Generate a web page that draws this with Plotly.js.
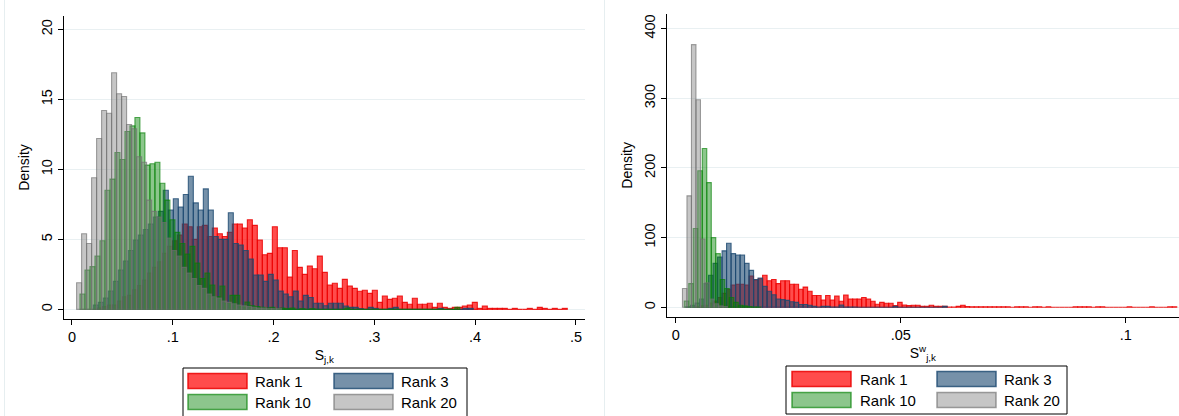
<!DOCTYPE html>
<html>
<head>
<meta charset="utf-8">
<script src="https://cdn.plot.ly/plotly-3.0.1.min.js"></script>
<style>
html,body{margin:0;padding:0;background:#ffffff;}
#chart{width:1179px;height:416px;}
</style>
</head>
<body>
<div id="chart"></div>
<script>
// ---------------- DATA ----------------
// Left panel: S_{j,k}, histogram densities (bin width and first bin edge per series)
const leftBinWidth = 0.00496;
const leftStartRank1 = 0.0252;
const leftStartRank3 = 0.0212;
const leftStartRank10 = 0.0079;
const leftStartRank20 = 0.0046;

const leftRank1 = [0.1,0.2,0.3,0.3,0.6,0.9,1.0,1.4,1.7,2.1,2.6,3.0,3.4,4.0,4.5,4.9,5.3,
  6.1,5.9,5.0,5.9,6.0,5.2,5.8,5.4,5.2,5.5,6.1,6.1,5.8,6.4,6.0,
  4.95,3.9,4.0,5.9,4.4,4.4,2.3,4.2,3.0,2.5,3.1,2.9,3.8,2.64,1.74,1.86,1.5,2.14,1.67,1.5,1.29,
  1.36,1.14,1.36,0.5,0.95,0.71,0.79,0.95,0.5,0.36,0.79,0.36,0.36,0.43,0.14,0.43,0.14,
  0.07,0.14,0.14,0.24,0.31,0.5,0.07,0.24,0.07,0.07,0.07,0.07,0,0.07,0,0,0.07,0,0.14,0.07,0,0.07,0,0.07];
const leftRank3 = [0.3,0.5,0.8,1.3,2.0,2.8,3.45,4.2,4.95,5.3,5.7,6.1,6.6,7.0,
  8.5,7.1,7.9,7.3,8.2,9.5,7.6,7.1,8.6,7.1,5.2,5.0,5.0,6.9,4.7,4.6,4.2,3.6,
  2.45,2.45,2.0,2.5,2.1,1.3,1.1,0.9,1.3,0.6,1.0,0.85,0.43,0.43,0.26,0.43,0.43,0.43,0.24,0.14,0.14,0.05,
  0,0.14,0.07,0,0,0.07,0.14,0,0,0,0,0,0,0,0,0.07,0,0,0,0,0.07,0.07];
const leftRank10 = [1.1,2.8,3.05,3.8,4.9,8.5,9.3,11.2,10.7,12.7,13.1,13.7,12.6,10.3,10.4,10.5,9.0,7.8,
  6.4,5.5,4.7,3.95,4.5,3.3,2.2,2.6,1.74,0.9,1.67,0.43,1.0,1.0,0.2,0.52,0.26,
  0.2,0.15,0.1,0.15,0.05,0.1,0.05,0.1,0,0.05,0,0.05,0,0,0,0,0,0,0.1,0,0,
  0,0,0,0,0,0,0,0,0,0,0,0,0,0,0,0,0,0,0,0.14];
const leftRank20 = [1.9,5.4,4.7,9.4,12.2,14.2,14.0,16.9,15.4,15.2,13.2,12.9,10.9,10.5,7.8,
  7.0,6.6,6.2,5.1,4.2,3.8,3.0,2.6,2.2,1.7,1.5,1.1,0.9,0.8,0.6,0.5,0.4,0.3,0.25,0.2,
  0.15,0.1,0.1,0.05,0.05,0.05];

// Right panel: S^w_{j,k}
const rightBinWidth = 0.001;
const rightStartRank1 = 0.0043;
const rightStartRank3 = 0.0023;
const rightStartRank10 = 0.0019;
const rightStartRank20 = 0.0015;

const rightRank1 = [1,2,3,6,9,14,20,
  26,32,33,33,32,45,39,41,46,38,40,34,38,38,33,33,26,29,23,17,17,10.5,17,10.5,16,8.6,17.7,12,12,12,
  14,12,8.6,4.3,7,5.7,5.7,2.4,7,3.3,2.4,2.9,2.9,1.4,1.4,2.9,1.4,1.4,1.4,0.5,0.5,1.4,2.9,1,
  0.7,0.7,0.7,0.7,0.7,0.7,0.7,0.7,0.7,0,0.7,0.7,0.7,0,0.7,0.7,0,0.7,0,0,0,0,0,
  0.7,0.7,0.7,0.7,0,0.7,0.7,0,0,0,0,0,0.7,0,0,0,0,0.7,0,0,0,0.7,0.7];
const rightRank3 = [1,3,6,12,34,46,63,72,81,92,77,75,75,63,53,40,42,
  30,23,18,12,11,10,8,7,4,4,3,1.4,0.5,1.4,1.4,0.5,0.5,3.3,0.5,0.5,0.5,
  0,0,0,0,0,0,0,0,1.4,0,0,0,0,0,0,0,0,0,0,1.4];
const rightRank10 = [9,34,113,196,228,179,100,77,40,27,14,7,3,2,1,0.5,0.5];
const rightRank20 = [27,160,377,298,98,35,12,5,2,1];

const seriesNames = ["Rank 1","Rank 3","Rank 10","Rank 20"];
const xTickVals1 = [0,0.1,0.2,0.3,0.4,0.5];
const xTickText1 = ["0",".1",".2",".3",".4",".5"];
const yTickVals1 = [0,5,10,15,20];
const xTickVals2 = [0,0.05,0.1];
const xTickText2 = ["0",".05",".1"];
const yTickVals2 = [0,100,200,300,400];

// ---------------- STYLE ----------------
const styles = {
  "Rank 1": {fill:"rgba(255,0,0,0.70)", line:"rgba(235,0,0,0.85)"},
  "Rank 3": {fill:"rgba(26,71,111,0.60)", line:"rgba(26,71,111,0.80)"},
  "Rank 10":{fill:"rgba(0,128,0,0.45)", line:"rgba(0,128,0,0.65)"},
  "Rank 20":{fill:"rgba(128,128,128,0.45)", line:"rgba(110,110,110,0.65)"}
};
const W = 1179, H = 416;
const px = x => x / W;
const py = y => 1 - y / H;
const FONT = "Liberation Sans, Arial, Helvetica, sans-serif";

function centers(start, width, n){
  const c = [];
  for (let i = 0; i < n; i++) c.push(start + width * (i + 0.5));
  return c;
}
function hist(name, vals, start, width, xa, ya){
  const s = styles[name];
  return {
    type: "bar", name: name,
    x: centers(start, width, vals.length), y: vals, width: width,
    xaxis: xa, yaxis: ya,
    marker: {color: s.fill, line: {color: s.line, width: 1.1}},
    showlegend: false, hoverinfo: "skip"
  };
}

const data = [
  hist("Rank 1", leftRank1, leftStartRank1, leftBinWidth, "x", "y"),
  hist("Rank 3", leftRank3, leftStartRank3, leftBinWidth, "x", "y"),
  hist("Rank 10", leftRank10, leftStartRank10, leftBinWidth, "x", "y"),
  hist("Rank 20", leftRank20, leftStartRank20, leftBinWidth, "x", "y"),
  hist("Rank 1", rightRank1, rightStartRank1, rightBinWidth, "x2", "y2"),
  hist("Rank 3", rightRank3, rightStartRank3, rightBinWidth, "x2", "y2"),
  hist("Rank 10", rightRank10, rightStartRank10, rightBinWidth, "x2", "y2"),
  hist("Rank 20", rightRank20, rightStartRank20, rightBinWidth, "x2", "y2")
];

const tickFont = {family: FONT, size: 14.5, color: "#000"};
function xAxis(domain, range, vals, text, titleText, anchor){
  return {
    domain: domain, range: range, anchor: anchor,
    tickmode: "array", tickvals: vals, ticktext: text,
    ticks: "outside", ticklen: 5, tickwidth: 1, tickcolor: "#000",
    showline: true, linecolor: "#000", linewidth: 1,
    showgrid: false, zeroline: false, tickfont: tickFont,
    title: {text: titleText, font: {family: FONT, size: 14, color: "#000"}, standoff: 5}
  };
}
function yAxis(domain, range, vals, anchor){
  return {
    domain: domain, range: range, anchor: anchor,
    tickmode: "array", tickvals: vals, ticktext: vals.map(String),
    tickangle: -90,
    ticks: "outside", ticklen: 5, tickwidth: 1, tickcolor: "#000",
    showline: true, linecolor: "#000", linewidth: 1,
    showgrid: true, gridcolor: "#e9f0f2", gridwidth: 1,
    zeroline: false, tickfont: tickFont,
    title: {text: "Density", font: {family: FONT, size: 14, color: "#000"}, standoff: 5}
  };
}

// legends drawn as shapes + text
const shapes = [];
const annotations = [];
function legend(box, swatches, textX, rowsY, swH){
  shapes.push({type:"rect", xref:"paper", yref:"paper",
    x0: px(box[0]), x1: px(box[1]), y0: py(box[3]), y1: py(box[2]),
    line:{color:"#000", width:1}, fillcolor:"#fff", layer:"above"});
  seriesNames.forEach((nm, i) => {
    const col = i % 2, row = Math.floor(i / 2);
    const s = styles[nm];
    const yc = rowsY[row];
    shapes.push({type:"rect", xref:"paper", yref:"paper",
      x0: px(swatches[col][0]), x1: px(swatches[col][1]),
      y0: py(yc + swH/2), y1: py(yc - swH/2),
      line:{color: s.line, width: 1.5}, fillcolor: s.fill, layer:"above"});
    annotations.push({xref:"paper", yref:"paper", x: px(textX[col]), y: py(yc),
      xanchor:"left", yanchor:"middle", showarrow:false, text: nm, borderpad: 0,
      font:{family: FONT, size: 15, color:"#000"}});
  });
}
legend([183, 467, 368, 430], [[188,247],[334,393]], [254, 400], [381, 402], 15);
legend([786, 1067, 366, 414], [[792,851],[937,996]], [859, 1003], [379, 400], 15);

// faint panel borders
shapes.push({type:"line", xref:"paper", yref:"paper", x0:px(4.5), x1:px(4.5), y0:0, y1:1, line:{color:"#e6eef0", width:1}});
shapes.push({type:"line", xref:"paper", yref:"paper", x0:px(604.5), x1:px(604.5), y0:0, y1:1, line:{color:"#e6eef0", width:1}});

const layout = {
  width: W, height: H,
  margin: {l:0, r:0, t:0, b:0, pad:0},
  paper_bgcolor: "#ffffff", plot_bgcolor: "#ffffff",
  barmode: "overlay",
  font: {family: FONT, size: 14, color: "#000"},
  xaxis: xAxis([px(63.5), px(585)], [-0.0084, 0.509], xTickVals1, xTickText1, "S<sub>j,k</sub>", "y"),
  yaxis: yAxis([py(319), py(16)], [-0.69, 20.95], yTickVals1, "x"),
  xaxis2: xAxis([px(666.7), 1], [-0.002, 0.1118], xTickVals2, xTickText2, "S<sup>w</sup><sub>j,k</sub>", "y2"),
  yaxis2: yAxis([py(316.7), py(14)], [-13.5, 421], yTickVals2, "x2"),
  shapes: shapes,
  annotations: annotations
};

Plotly.newPlot("chart", data, layout, {staticPlot: true, displayModeBar: false});
</script>
</body>
</html>
